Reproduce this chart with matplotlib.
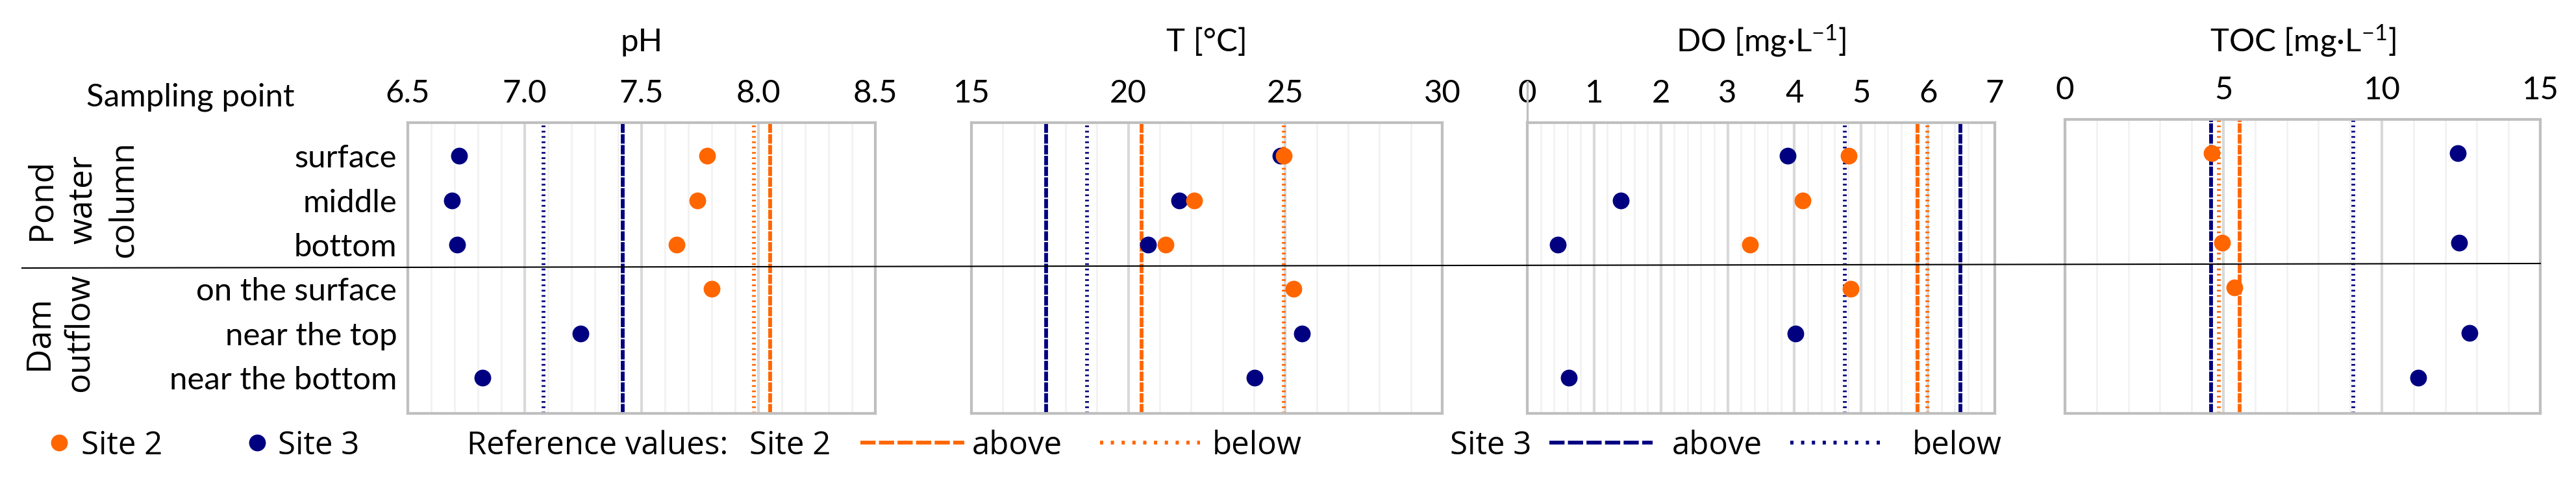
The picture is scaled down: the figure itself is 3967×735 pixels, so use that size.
import numpy as np
import matplotlib
matplotlib.use('Agg')
import matplotlib.pyplot as plt
from matplotlib.lines import Line2D
from matplotlib.ticker import MultipleLocator

nan = np.nan

# sampling points (rows) and their groups
points = ['surface', 'middle', 'bottom', 'on the surface', 'near the top', 'near the bottom']
groups = ['Pond\nwater\ncolumn', 'Dam\noutflow']

# measured values, nan = not measured
ph_site2 = [7.78, 7.74, 7.65, 7.80, nan, nan]
ph_site3 = [6.72, 6.69, 6.71, nan, 7.24, 6.82]
t_site2 = [24.95, 22.10, 21.19, 25.26, nan, nan]
t_site3 = [24.85, 21.62, 20.62, nan, 25.53, 24.03]
do_site2 = [4.81, 4.12, 3.33, 4.84, nan, nan]
do_site3 = [3.90, 1.40, 0.46, nan, 4.02, 0.62]
toc_site2 = [4.63, nan, 4.96, 5.34, nan, nan]
toc_site3 = [12.40, nan, 12.43, nan, 12.76, 11.15]

# reference values [above, below]
ph_ref2 = [8.05, 7.98]
ph_ref3 = [7.42, 7.08]
t_ref2 = [20.43, 24.95]
t_ref3 = [17.38, 18.68]
do_ref2 = [5.84, 5.99]
do_ref3 = [6.48, 4.75]
toc_ref2 = [5.51, 4.86]
toc_ref3 = [4.61, 9.09]

titles = ['pH', 'T [°C]', 'DO [mg·L$^{\\mathregular{-1}}$]', 'TOC [mg·L$^{\\mathregular{-1}}$]']

W, H, DPI = 3967, 735, 300
ORANGE = '#FF6600'
NAVY = '#000080'
TXT = ['Lato', 'DejaVu Sans']
UI = ['Open Sans', 'DejaVu Sans']
FS = 11.8

plt.rcParams['font.family'] = TXT
plt.rcParams['mathtext.fontset'] = 'custom'
plt.rcParams['mathtext.rm'] = 'Lato'
plt.rcParams['mathtext.it'] = 'Lato:italic'

fig = plt.figure(figsize=(W / DPI, H / DPI), dpi=DPI)

def box(x0, x1, y0, y1):
    return [x0 / W, 1 - y1 / H, (x1 - x0) / W, (y1 - y0) / H]

panels = [
    (ph_site2, ph_site3, ph_ref2, ph_ref3, (6.5, 8.5), 0.5, 0.1, '{:.1f}', (628, 1348, 189, 637)),
    (t_site2, t_site3, t_ref2, t_ref3, (15, 30), 5, 1, '{:.0f}', (1496, 2221, 189, 637)),
    (do_site2, do_site3, do_ref2, do_ref3, (0, 7), 1, 0.2, '{:.0f}', (2352, 3072, 189, 637)),
    (toc_site2, toc_site3, toc_ref2, toc_ref3, (0, 15), 5, 1, '{:.0f}', (3180, 3912, 184, 637)),
]

rows = np.arange(1, len(points) + 1)
dash = (2.5, 0.35)
dot = (0.45, 0.95)

for i, (s2, s3, r2, r3, lim, major, minor, fmt, b) in enumerate(panels):
    ax = fig.add_axes(box(*b))
    ax.set_xlim(*lim)
    ax.set_ylim(6.8, 0.25)
    ax.xaxis.set_major_locator(MultipleLocator(major))
    ax.xaxis.set_minor_locator(MultipleLocator(minor))
    ax.xaxis.set_major_formatter(lambda v, p, f=fmt: f.format(v))
    ax.grid(which='minor', axis='x', color='#F2F2F2', lw=0.65)
    ax.grid(which='major', axis='x', color='#D9D9D9', lw=1.0)
    ax.set_axisbelow(True)
    ax.tick_params(axis='x', which='both', length=0, top=False, bottom=False,
                   labeltop=True, labelbottom=False, pad=5.5, labelsize=FS)
    ax.set_yticks(rows)
    if i == 0:
        ax.set_yticklabels(points, fontsize=FS)
    else:
        ax.set_yticklabels([])
    ax.tick_params(axis='y', length=0, pad=4)
    for sp in ax.spines.values():
        sp.set_color('#BFBFBF')
        sp.set_linewidth(1.0)

    ax.axvline(r2[0], color=ORANGE, lw=1.4, dashes=dash, zorder=2)
    ax.axvline(r2[1], color=ORANGE, lw=1.4, dashes=dot, zorder=2)
    ax.axvline(r3[0], color=NAVY, lw=1.4, dashes=dash, zorder=2)
    ax.axvline(r3[1], color=NAVY, lw=1.4, dashes=dot, zorder=2)

    ax.plot(s3, rows, 'o', color=NAVY, ms=6.2, mew=0, zorder=3)
    ax.plot(s2, rows, 'o', color=ORANGE, ms=6.2, mew=0, zorder=4)

    fig.text((b[0] + b[1]) / 2 / W, 1 - 79 / H, titles[i], ha='center', va='baseline', fontsize=FS)

    if i == 2:
        ax.plot([0, 0], [1, 1 + 63 / 448], color='#BFBFBF', lw=0.8,
                transform=ax.transAxes, clip_on=False)

fig.text(133 / W, 1 - 163 / H, 'Sampling point', ha='left', va='baseline', fontsize=FS)

fig.text(127 / W, 1 - 307 / H, groups[0], rotation=90, ha='center', va='center',
         multialignment='center', family=UI, fontsize=12.4, linespacing=1.3)
fig.text(91 / W, 1 - 513 / H, groups[1], rotation=90, ha='center', va='center',
         multialignment='center', family=UI, fontsize=12.4, linespacing=1.3)

fig.add_artist(Line2D([34 / W, 3912 / W], [1 - 413 / H, 1 - 406 / H], color='black',
                      lw=0.5, transform=fig.transFigure, zorder=10))

# legend row
yb = 1 - 700 / H
yc = 1 - 682 / H
lfs = 11.8
fig.add_artist(Line2D([91 / W], [yc], marker='o', color=ORANGE, ms=6.2, mew=0, ls='none',
                      transform=fig.transFigure))
fig.text(125 / W, yb, 'Site 2', family=UI, fontsize=lfs, va='baseline')
fig.add_artist(Line2D([396 / W], [yc], marker='o', color=NAVY, ms=6.2, mew=0, ls='none',
                      transform=fig.transFigure))
fig.text(428 / W, yb, 'Site 3', family=UI, fontsize=lfs, va='baseline')
fig.text(719 / W, yb, 'Reference values:', family=UI, fontsize=lfs, va='baseline')
fig.text(1154 / W, yb, 'Site 2', family=UI, fontsize=lfs, va='baseline')
fig.text(2233 / W, yb, 'Site 3', family=UI, fontsize=lfs, va='baseline')
for x0, x1, c, d, lab in [(1325, 1485, ORANGE, (4, 0.9), 1497), (1694, 1848, ORANGE, (0.85, 2.0), 1867),
                          (2386, 2545, NAVY, (4, 0.9), 2575), (2757, 2902, NAVY, (0.85, 2.0), 2945)]:
    fig.add_artist(Line2D([x0 / W, x1 / W], [yc, yc], color=c, lw=1.4, dashes=d,
                          transform=fig.transFigure))
    fig.text(lab / W, yb, 'above' if d[0] > 1 else 'below', family=UI, fontsize=lfs, va='baseline')

fig.savefig('out.png', dpi=DPI)
